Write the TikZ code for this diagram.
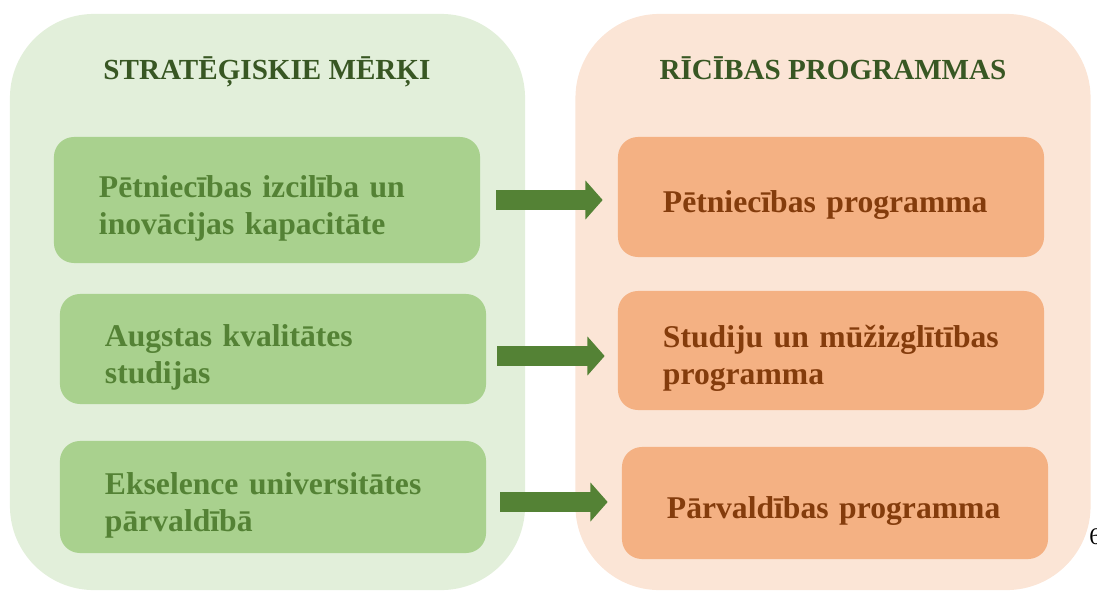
\documentclass[tikz,border=0pt]{standalone}
\usepackage{fontspec}
\setmainfont{Liberation Serif}
\usetikzlibrary{arrows.meta, positioning}
\definecolor{panelgreen}{HTML}{E2EFDA}
\definecolor{panelpeach}{HTML}{FBE5D6}
\definecolor{goalfill}{HTML}{A9D18E}
\definecolor{progfill}{HTML}{F4B183}
\definecolor{goaltext}{HTML}{548235}
\definecolor{progtext}{HTML}{843C0C}
\definecolor{titlegreen}{HTML}{385723}
\newcommand{\boxstrut}{\rule{0pt}{0.95cm}}

\begin{document}
\begin{tikzpicture}[x=0.025cm, y=-0.025cm,
    panel/.style={rectangle, rounded corners=2.1cm, minimum width=12.875cm, minimum height=14.4cm, inner sep=0pt},
    ptitle/.style={font=\fontsize{20.7}{24}\selectfont\bfseries, text=titlegreen, anchor=base},
    goal/.style={rectangle, rounded corners=0.5cm, fill=goalfill, text=goaltext, align=left, text width=8.4cm, inner xsep=1.125cm, inner ysep=0pt, font=\fontsize{22.5}{26.5}\selectfont\bfseries},
    prog/.style={goal, fill=progfill, text=progtext},
    link/.style={draw=goaltext, line width=0.5cm, -{Triangle[length=0.43cm, width=0.95cm]}}]
    \useasboundingbox (0,0) rectangle (1097,591);

    % two columns
    \node[panel, fill=panelgreen] (goals) at (267.5,302) {};
    \node[panel, fill=panelpeach] (progs) at (833,302) {};
    \node[ptitle] (goalstitle) at (267,79) {STRATĒĢISKIE MĒRĶI};
    \node[ptitle] (progstitle) at (833,80) {RĪCĪBAS PROGRAMMAS};

    % goals and programmes
    \node[goal, minimum height=3.15cm] (g1) at (267,200) {\boxstrut Pētniecības izcilība un\\inovācijas kapacitāte};
    \node[goal, minimum height=2.75cm] (g2) at (273,349) {\boxstrut Augstas kvalitātes\\studijas};
    \node[goal, minimum height=2.8cm] (g3) at (273,497) {\boxstrut Ekselence universitātes\\pārvaldībā};
    \node[prog, minimum height=3cm] (p1) at (831,197) {\boxstrut Pētniecības programma};
    \node[prog, minimum height=2.975cm] (p2) at (831,350.5) {\boxstrut Studiju un mūžizglītības\\programma};
    \node[prog, minimum height=2.8cm] (p3) at (835,503) {\boxstrut Pārvaldības programma};

    \node[anchor=west, inner sep=0pt, font=\fontsize{17}{20}\selectfont] (pagenum) at (1089,537) {6};

    % links
    \coordinate (a1) at ([xshift=0.4cm]g1.east);
    \coordinate (a2) at ([shift={(0.275cm,-0.175cm)}]g2.east);
    \coordinate (a3) at ([shift={(0.35cm,-0.125cm)}]g3.east);
    \draw[link] (a1) -- ([xshift=-0.375cm]a1 -| p1.west);
    \draw[link] (a2) -- ([xshift=-0.325cm]a2 -| p2.west);
    \draw[link] (a3) -- ([xshift=-0.35cm]a3 -| p3.west);
\end{tikzpicture}
\end{document}
